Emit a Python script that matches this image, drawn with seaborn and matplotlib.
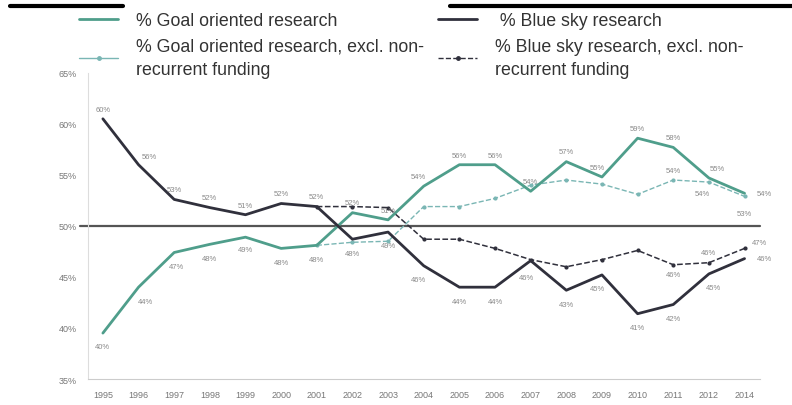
import numpy as np
import pandas as pd
import matplotlib.pyplot as plt
import seaborn as sns
from matplotlib.lines import Line2D

years = ["1995", "1996", "1997", "1998", "1999", "2000", "2001", "2002", "2003",
         "2004", "2005", "2006", "2007", "2008", "2009", "2010", "2011", "2012", "2014"]

blue_sky = [60.5, 56.0, 52.6, 51.8, 51.1, 52.2, 51.9, 48.7, 49.4, 46.1, 44.0, 44.0,
            46.6, 43.7, 45.2, 41.4, 42.3, 45.3, 46.8]
goal = [39.5, 44.0, 47.4, 48.2, 48.9, 47.8, 48.1, 51.3, 50.6, 53.9, 56.0, 56.0,
        53.4, 56.3, 54.8, 58.6, 57.7, 54.7, 53.2]

# excl. non-recurrent funding, starts in 2001
goal_excl = [48.1, 48.4, 48.5, 51.9, 51.9, 52.7, 54.0, 54.5, 54.1, 53.1, 54.5, 54.3, 52.9]
blue_excl = [51.9, 51.9, 51.8, 48.7, 48.7, 47.8, 46.7, 46.0, 46.7, 47.6, 46.2, 46.4, 47.8]

blue_labels = ["60%", "56%", "53%", "52%", "51%", "52%", "52%", "48%", "49%", "46%",
               "44%", "44%", "46%", "43%", "45%", "41%", "42%", "45%", "46%"]
goal_labels = ["40%", "44%", "47%", "48%", "49%", "48%", "48%", "52%", "51%", "54%",
               "56%", "56%", "54%", "57%", "55%", "59%", "58%", "55%", "54%"]
goal_excl_labels = {"2011": "54%", "2012": "54%", "2014": "53%"}
blue_excl_labels = {"2011": "46%", "2012": "46%", "2014": "47%"}

teal = "#4f9e8b"
teal_light = "#7ab6b4"
dark = "#30303c"
label_col = "#8a8a8a"

sns.set_style("white")
plt.rcParams["font.family"] = ["Liberation Sans", "DejaVu Sans"]

x = np.arange(len(years))
x_excl = x[6:]
df = pd.DataFrame({"x": x, "goal": goal, "blue": blue_sky})
dfe = pd.DataFrame({"x": x_excl, "goal": goal_excl, "blue": blue_excl})

fig = plt.figure(figsize=(7.92, 4.06), dpi=100)
ax = fig.add_axes([0.111, 0.064, 0.848, 0.754])

sns.lineplot(data=dfe, x="x", y="goal", ax=ax, color=teal_light, lw=1.0,
             linestyle="--", marker="o", markersize=3, markeredgewidth=0)
sns.lineplot(data=dfe, x="x", y="blue", ax=ax, color=dark, lw=1.1,
             linestyle="--", marker="o", markersize=3, markeredgewidth=0)
sns.lineplot(data=df, x="x", y="goal", ax=ax, color=teal, lw=2.0)
sns.lineplot(data=df, x="x", y="blue", ax=ax, color=dark, lw=2.0)

ax.axhline(50, xmin=-0.012, xmax=1.0, color="#555555", lw=1.6, clip_on=False, zorder=1)

ax.set_xlim(-0.42, 18.42)
ax.set_ylim(35, 65)
ax.set_xticks(x)
ax.set_xticklabels(years)
ax.set_yticks([35, 40, 45, 50, 55, 60, 65])
ax.set_yticklabels(["35%", "40%", "45%", "50%", "55%", "60%", "65%"])
ax.tick_params(labelsize=6.5, colors="#777777", length=0, pad=8)
ax.set_xlabel("")
ax.set_ylabel("")
for s in ["top", "right"]:
    ax.spines[s].set_visible(False)
ax.spines["left"].set_color("#dddddd")
ax.spines["bottom"].set_color("#cccccc")
ax.spines["left"].set_linewidth(0.8)
ax.spines["bottom"].set_linewidth(0.8)

# data labels (offsets in points)
blue_off = [(0, 7), (8, 6), (0, 7), (0, 7), (0, 7), (0, 7), (0, 7), (0, -10), (0, -10),
            (-4, -10), (0, -10), (0, -10), (-3, -12), (0, -10), (-3, -10), (0, -10),
            (0, -10), (3, -10), (14, 0)]
goal_off = [(0, -10), (5, -10), (2, -10), (0, -10), (0, -9), (0, -10), (0, -10), (0, 7),
            (0, 7), (-4, 7), (0, 7), (0, 7), (0, 7), (0, 7), (-3, 7), (0, 7), (0, 7),
            (6, 7), (14, 0)]
for i in range(len(years)):
    ax.annotate(blue_labels[i], (x[i], blue_sky[i]), xytext=blue_off[i],
                textcoords="offset points", ha="center", va="center",
                fontsize=5.5, color=label_col)
    ax.annotate(goal_labels[i], (x[i], goal[i]), xytext=goal_off[i],
                textcoords="offset points", ha="center", va="center",
                fontsize=5.5, color=label_col)

ge_off = {"2011": (0, 7), "2012": (-5, -8), "2014": (0, -12)}
be_off = {"2011": (0, -7), "2012": (0, 7), "2014": (11, 4)}
for yr, lab in goal_excl_labels.items():
    i = years.index(yr)
    ax.annotate(lab, (x[i], goal_excl[i - 6]), xytext=ge_off[yr],
                textcoords="offset points", ha="center", va="center",
                fontsize=5.5, color=label_col)
for yr, lab in blue_excl_labels.items():
    i = years.index(yr)
    ax.annotate(lab, (x[i], blue_excl[i - 6]), xytext=be_off[yr],
                textcoords="offset points", ha="center", va="center",
                fontsize=5.5, color=label_col)

# legend
handles = [
    Line2D([], [], color=teal, lw=2.0),
    Line2D([], [], color=teal_light, lw=1.0, marker="o", markersize=2.5),
    Line2D([], [], color=dark, lw=2.0),
    Line2D([], [], color=dark, lw=1.0, linestyle="--", marker="o", markersize=2.5),
]
labels = [
    "% Goal oriented research",
    "% Goal oriented research, excl. non-\nrecurrent funding",
    " % Blue sky research",
    "% Blue sky research, excl. non-\nrecurrent funding",
]
leg = fig.legend(handles, labels, ncol=2, loc="upper left", bbox_to_anchor=(0.1, 0.968),
                 frameon=False, fontsize=12.8, handlelength=2.2, columnspacing=0.8,
                 labelspacing=0.5, handletextpad=1.0, labelcolor="#333333",
                 borderpad=0, borderaxespad=0)
for t in leg.get_texts():
    t.set_linespacing(1.45)

# header rules
fig.add_artist(Line2D([0.013, 0.155], [0.983, 0.983], color="black", lw=3,
                      transform=fig.transFigure))
fig.add_artist(Line2D([0.568, 1.0], [0.983, 0.983], color="black", lw=3,
                      transform=fig.transFigure))

fig.savefig("out.png", dpi=100)
